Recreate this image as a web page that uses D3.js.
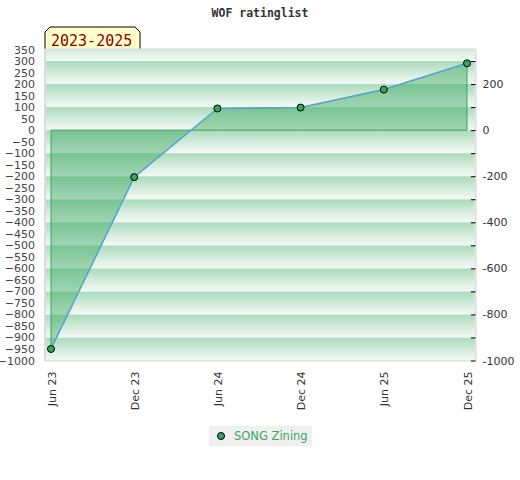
<!DOCTYPE html>
<html>
<head>
<meta charset="utf-8">
<script src="https://cdn.jsdelivr.net/npm/d3@7"></script>
<style>
  body { margin: 0; background: #fff; }
  svg { display: block; }
</style>
</head>
<body>
<svg id="chart" width="520" height="480"></svg>
<script>
const categories = ["Jun 23", "Dec 23", "Jun 24", "Dec 24", "Jun 25", "Dec 25"];
const ratingValues = [-950, -204, 94, 98, 176, 290];
const leftTicks = d3.range(-1000, 351, 50);
const rightTicks = d3.range(-1000, 301, 100);
const seriesName = "SONG Zining";
const titleText = "WOF ratinglist";
const periodText = "2023-2025";

const svg = d3.select("#chart");
const plot = { left: 45, right: 475.5, top: 49.5, bottom: 360.5 };

const y = d3.scaleLinear().domain([-1000, 350]).range([plot.bottom, plot.top]);
const x = d3.scalePoint().domain(categories).range([51, 467]);

const defs = svg.append("defs");
const grad = defs.append("linearGradient").attr("id", "band").attr("x1", 0).attr("y1", 0).attr("x2", 0).attr("y2", 1);
grad.append("stop").attr("offset", "0%").attr("stop-color", "#aadabb");
grad.append("stop").attr("offset", "25%").attr("stop-color", "#bde2ca");
grad.append("stop").attr("offset", "60%").attr("stop-color", "#d9eee0");
grad.append("stop").attr("offset", "100%").attr("stop-color", "#f2f9f4");
defs.append("clipPath").attr("id", "plotclip").append("rect")
  .attr("x", plot.left).attr("y", plot.top).attr("width", plot.right - plot.left).attr("height", plot.bottom - plot.top);

// title
svg.append("text").attr("x", 260).attr("y", 17).attr("text-anchor", "middle")
  .attr("font-family", "DejaVu Sans Mono").attr("font-weight", "bold").attr("font-size", "11.5px")
  .attr("fill", "#333").text(titleText);

// period tag
const tx0 = 45, tx1 = 140, ty0 = 27, ty1 = 50, c = 5;
svg.append("path")
  .attr("d", `M${tx0},${ty1} L${tx0},${ty0 + c} L${tx0 + c},${ty0} L${tx1 - c},${ty0} L${tx1},${ty0 + c} L${tx1},${ty1}`)
  .attr("fill", "#ffffcc").attr("stroke", "#000").attr("stroke-width", 1);
svg.append("text").attr("x", 51).attr("y", 46)
  .attr("font-family", "DejaVu Sans Mono").attr("font-size", "15px").attr("fill", "#8b0000").text(periodText);

// plot background
svg.append("rect").attr("x", plot.left).attr("y", plot.top)
  .attr("width", plot.right - plot.left).attr("height", plot.bottom - plot.top)
  .attr("fill", "#f2f9f4").attr("stroke", "#dcdcdc").attr("stroke-width", 2);

const bandG = svg.append("g").attr("clip-path", "url(#plotclip)");
const bandStarts = d3.range(-1000, 301, 100);
bandG.selectAll("rect.band").data(bandStarts).join("rect")
  .attr("class", "band")
  .attr("x", plot.left + 1).attr("width", plot.right - plot.left - 2)
  .attr("y", d => y(d + 100)).attr("height", d => y(d) - y(d + 100))
  .attr("fill", "url(#band)");

// area
const pts = categories.map((cat, i) => ({ cat, v: ratingValues[i] }));
const area = d3.area().x(d => x(d.cat)).y0(y(0)).y1(d => y(d.v));
svg.append("path").datum(pts).attr("d", area)
  .attr("fill", "#3aa860").attr("fill-opacity", 0.45)
  .attr("stroke", "#3aa55a").attr("stroke-width", 1);

const line = d3.line().x(d => x(d.cat)).y(d => y(d.v));
svg.append("path").datum(pts).attr("d", line)
  .attr("fill", "none").attr("stroke", "#5ba3d9").attr("stroke-width", 1.5);

svg.selectAll("circle.pt").data(pts).join("circle").attr("class", "pt")
  .attr("cx", d => x(d.cat)).attr("cy", d => y(d.v)).attr("r", 3.5)
  .attr("fill", "#33a55c").attr("stroke", "#000").attr("stroke-width", 1);

// left axis
const la = svg.append("g").attr("transform", `translate(${plot.left},0)`)
  .call(d3.axisLeft(y).tickValues(leftTicks).tickSize(0).tickPadding(10).tickFormat(d3.format("d")));
la.select(".domain").remove();
la.selectAll("text").attr("font-family", "DejaVu Sans").attr("font-size", "11px").attr("fill", "#444");

// right axis
const ra = svg.append("g").attr("transform", `translate(${plot.right},0)`)
  .call(d3.axisRight(y).tickValues(rightTicks).tickSizeInner(-4.5).tickSizeOuter(0).tickPadding(7)
    .tickFormat(d => (d % 200 === 0 ? d : "")));
ra.select(".domain").remove();
ra.selectAll("line").attr("stroke", "#000");
ra.selectAll("text").attr("x", 7).attr("font-family", "DejaVu Sans").attr("font-size", "11px").attr("fill", "#333");

// x axis labels
const xa = svg.append("g").attr("transform", `translate(0,${plot.bottom})`)
  .call(d3.axisBottom(x).tickSize(0).tickPadding(0));
xa.select(".domain").remove();
xa.selectAll("text")
  .attr("font-family", "DejaVu Sans").attr("font-size", "11px").attr("fill", "#333")
  .attr("text-anchor", "end").attr("dy", null)
  .attr("transform", "translate(4,11) rotate(-90)");

// legend
svg.append("rect").attr("x", 209).attr("y", 426).attr("width", 103).attr("height", 20).attr("fill", "#f0f0f0");
svg.append("circle").attr("cx", 221).attr("cy", 436).attr("r", 3.5)
  .attr("fill", "#33a55c").attr("stroke", "#000").attr("stroke-width", 1);
svg.append("text").attr("x", 234).attr("y", 440)
  .attr("font-family", "DejaVu Sans").attr("font-size", "11.5px").attr("fill", "#3ca860").text(seriesName);
</script>
</body>
</html>
